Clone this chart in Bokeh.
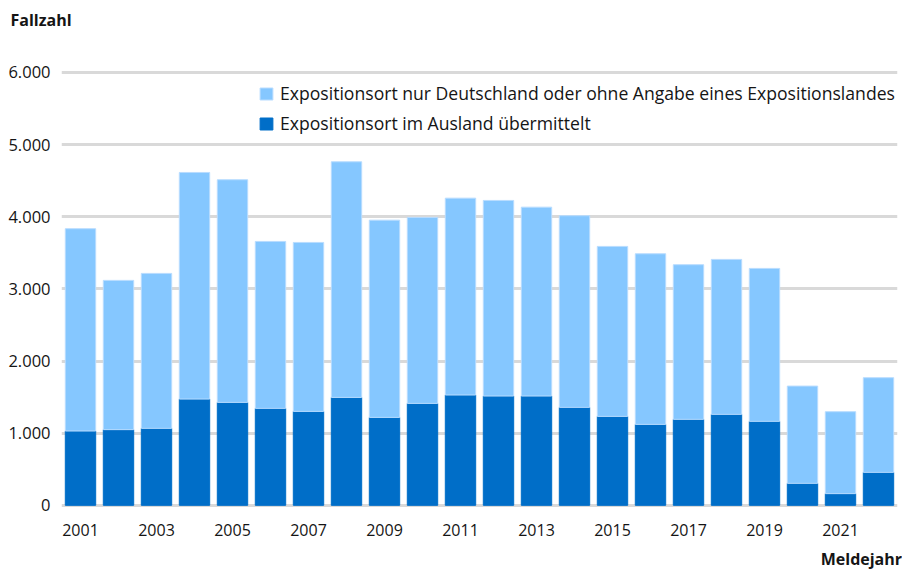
from bokeh.plotting import figure
from bokeh.models import (ColumnDataSource, Range1d, FixedTicker, CustomJSTickFormatter,
                          Legend, LegendItem, Title, LinearAxis)
from bokeh.embed import file_html
from bokeh.resources import INLINE

years = list(range(2001, 2023))
ausland = [1030, 1049, 1067, 1473, 1427, 1344, 1302, 1496, 1219, 1413, 1529,
           1515, 1515, 1358, 1233, 1122, 1192, 1261, 1164, 305, 162, 457]
deutschland = [2804, 2069, 2148, 3141, 3086, 2314, 2342, 3266, 2734, 2578, 2729,
               2711, 2618, 2656, 2356, 2365, 2143, 2148, 2120, 1348, 1136, 1312]
year_ticks = [2001, 2003, 2005, 2007, 2009, 2011, 2013, 2015, 2017, 2019, 2021]
y_ticks = [0, 1000, 2000, 3000, 4000, 5000, 6000]
series_names = ["Expositionsort im Ausland übermittelt",
                "Expositionsort nur Deutschland oder ohne Angabe eines Expositionslandes"]
colors = ["#006ec8", "#85c7ff"]
y_title = "Fallzahl"
x_title = "Meldejahr"

FONT = "Open Sans"
TEXT = "#151515"
X_TITLE_POS = 2021.55  # horizontal anchor of the x-axis title (layout constant)

src = ColumnDataSource(dict(year=years, ausland=ausland, deutschland=deutschland))

p = figure(width=902, height=572, output_backend="svg", toolbar_location=None,
           x_range=Range1d(2000.5, 2022.5), y_range=Range1d(-30, 6055),
           min_border_left=61, min_border_right=5, min_border_top=68, min_border_bottom=65)
p.outline_line_color = None
p.background_fill_color = "white"
p.border_fill_color = "white"

rs = p.vbar_stack(["ausland", "deutschland"], x="year", width=0.8, source=src,
                  color=colors, line_color=["#006ec8", "#b8dcff"], line_width=1)

p.xgrid.visible = False
p.ygrid.ticker = FixedTicker(ticks=y_ticks)
p.ygrid.grid_line_color = "#d9d9d9"
p.ygrid.grid_line_width = 3

p.yaxis.ticker = FixedTicker(ticks=y_ticks)
p.yaxis.formatter = CustomJSTickFormatter(code="""
return tick.toFixed(0).replace(/\\B(?=(\\d{3})+(?!\\d))/g, '.');
""")
p.xaxis.ticker = FixedTicker(ticks=year_ticks)
for ax in (p.xaxis, p.yaxis):
    ax.axis_line_color = None
    ax.major_tick_line_color = None
    ax.minor_tick_line_color = None
    ax.major_label_text_font = FONT
    ax.major_label_text_font_size = "16px"
    ax.major_label_text_color = TEXT
p.yaxis.major_label_text_font_size = "16.5px"
p.yaxis.major_label_standoff = 5
p.xaxis.major_label_standoff = 10

# x-axis title rendered as the single label of a second, bare axis below
title_axis = LinearAxis(ticker=FixedTicker(ticks=[X_TITLE_POS]),
                        formatter=CustomJSTickFormatter(args=dict(t=x_title), code="return t;"))
title_axis.axis_line_color = None
title_axis.major_tick_line_color = None
title_axis.minor_tick_line_color = None
title_axis.major_label_text_font = FONT
title_axis.major_label_text_font_size = "16px"
title_axis.major_label_text_font_style = "bold"
title_axis.major_label_text_color = TEXT
title_axis.major_label_standoff = 3
p.add_layout(title_axis, "below")

legend = Legend(items=[LegendItem(label=series_names[1], renderers=[rs[1]]),
                       LegendItem(label=series_names[0], renderers=[rs[0]])],
                location=(197, 372), orientation="vertical")
legend.label_text_font = FONT
legend.label_text_font_size = "17.6px"
legend.label_text_color = TEXT
legend.glyph_width = 16
legend.glyph_height = 15
legend.label_height = 16
legend.label_standoff = 6
legend.spacing = 6
legend.padding = 0
legend.margin = 0
legend.border_line_color = None
legend.background_fill_alpha = 0
p.add_layout(legend, "center")

spacer = Title(text=" ", align="left", standoff=14,
               text_font=FONT, text_font_size="16px", text_font_style="bold")
p.add_layout(spacer, "above")
t_top = Title(text=y_title, align="left", offset=-51, standoff=0,
              text_font=FONT, text_font_size="16px", text_font_style="bold",
              text_color=TEXT)
p.add_layout(t_top, "above")

open("out.html", "w").write(file_html(p, INLINE))
